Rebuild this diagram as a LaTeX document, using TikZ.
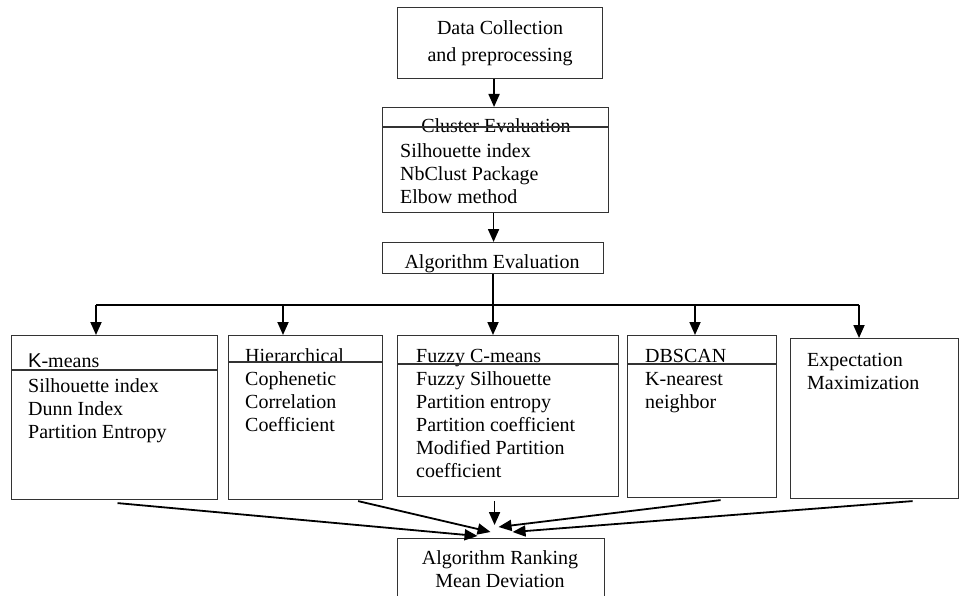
\documentclass[tikz,border=0pt]{standalone}
\usepackage{fontspec}
\setmainfont{Liberation Serif}
\newfontfamily\kfont{Liberation Sans}
\usepackage{tikz}
\usetikzlibrary{arrows.meta}

\begin{document}
\begin{tikzpicture}[x=1pt, y=-1pt, font=\fontsize{20}{23}\selectfont]
        % Styles
        \tikzstyle{block} = [rectangle, draw=black!80, line width=1.1pt, anchor=north west, inner sep=0pt]
        \tikzstyle{head} = [anchor=base, inner sep=0pt]
        \tikzstyle{items} = [anchor=north west, align=left, inner sep=0pt]
        \tikzstyle{rule} = [draw=black!80, line width=1.1pt]
        \tikzstyle{wire} = [draw, line width=1.5pt]
        \tikzstyle{line} = [draw, line width=1.8pt, -{Triangle[length=13pt, width=11pt]}]

        \useasboundingbox (0,0) rectangle (960,596);

        % Nodes
        \node [block, minimum width=205, minimum height=71, align=center] (data) at (397,7) {Data Collection\\[4pt] and preprocessing};

        \node [block, minimum width=226, minimum height=105] (clust) at (382,107) {};
        \node [head] (clusthead) at (496,133) {Cluster Evaluation};
        \node [items] (clustitems) at (400,143) {Silhouette index\\ NbClust Package\\ Elbow method};

        \node [block, minimum width=221, minimum height=31] (algo) at (382,242) {};
        \node [head] (algohead) at (492,268) {Algorithm Evaluation};

        \node [block, minimum width=206, minimum height=164] (kmeans) at (11,335) {};
        \node [head, anchor=base west] (kmeanshead) at (28,367) {{\kfont K}-means};
        \node [items] (kmeansitems) at (28,378) {Silhouette index\\ Dunn Index\\ Partition Entropy};

        \node [block, minimum width=154, minimum height=164] (hier) at (228,335) {};
        \node [head, anchor=base west] (hierhead) at (245,362) {Hierarchical};
        \node [items] (hieritems) at (245,371) {Cophenetic\\ Correlation\\ Coefficient};

        \node [block, minimum width=221, minimum height=161] (fuzzy) at (397,335) {};
        \node [head, anchor=base west] (fuzzyhead) at (416,362) {Fuzzy C-means};
        \node [items] (fuzzyitems) at (416,371) {Fuzzy Silhouette\\ Partition entropy\\ Partition coefficient\\ Modified Partition\\ coefficient};

        \node [block, minimum width=149, minimum height=162] (dbscan) at (627,335) {};
        \node [head, anchor=base west] (dbscanhead) at (645,362) {DBSCAN};
        \node [items] (dbscanitems) at (645,372) {K-nearest\\ neighbor};

        \node [block, minimum width=168, minimum height=160] (em) at (790,338) {};
        \node [items] (emitems) at (807,353) {Expectation\\ Maximization};

        \node [block, minimum width=207, minimum height=72] (rank) at (397,538) {};
        \node [items, anchor=north, align=center] (rankitems) at (500,550) {Algorithm Ranking\\ Mean Deviation};

        % Dividers
        \draw [rule] ([yshift=-20pt]clust.north west) -- ([yshift=-20pt]clust.north east);
        \draw [rule] ([yshift=-35pt]kmeans.north west) -- ([yshift=-35pt]kmeans.north east);
        \draw [rule] ([yshift=-27pt]hier.north west) -- ([yshift=-27pt]hier.north east);
        \draw [rule] ([yshift=-29pt]fuzzy.north west) -- ([yshift=-29pt]fuzzy.north east);
        \draw [rule] ([yshift=-29pt]dbscan.north west) -- ([yshift=-29pt]dbscan.north east);

        % Bus
        \coordinate (b1) at (96,305);
        \coordinate (b2) at (283,305);
        \coordinate (b3) at (493,305);
        \coordinate (b4) at (695,305);
        \coordinate (b5) at (859,305);

        % Paths
        \path [line] ([xshift=-6pt]data.south) -- ([xshift=-6pt]data.south |- clust.north);
        \path [line] ([xshift=-2pt]clust.south) -- ([xshift=-2pt]clust.south |- algo.north);
        \path [wire] (b3 |- algo.south) -- (b3);
        \path [wire] (b1) -- (b5);
        \path [line] (b1) -- (b1 |- kmeans.north);
        \path [line] (b2) -- (b2 |- hier.north);
        \path [line] (b3) -- (b3 |- fuzzy.north);
        \path [line] (b4) -- (b4 |- dbscan.north);
        \path [line] (b5) -- (b5 |- em.north);

        \path [line] ([xshift=3pt, yshift=-3pt]kmeans.south) -- ([xshift=-23.5pt, yshift=2pt]rank.north);
        \path [line] ([xshift=-25pt, yshift=-1pt]hier.south east) -- ([xshift=-10.5pt, yshift=6pt]rank.north);
        \path [line] ([xshift=-13.5pt, yshift=-4pt]fuzzy.south) -- ([xshift=-6.5pt, yshift=13pt]rank.north);
        \path [line] ([xshift=18.5pt, yshift=-2pt]dbscan.south) -- ([xshift=-2.5pt, yshift=11pt]rank.north);
        \path [line] ([xshift=38pt, yshift=-2pt]em.south) -- ([xshift=11.5pt, yshift=6pt]rank.north);
    \end{tikzpicture}
\end{document}
